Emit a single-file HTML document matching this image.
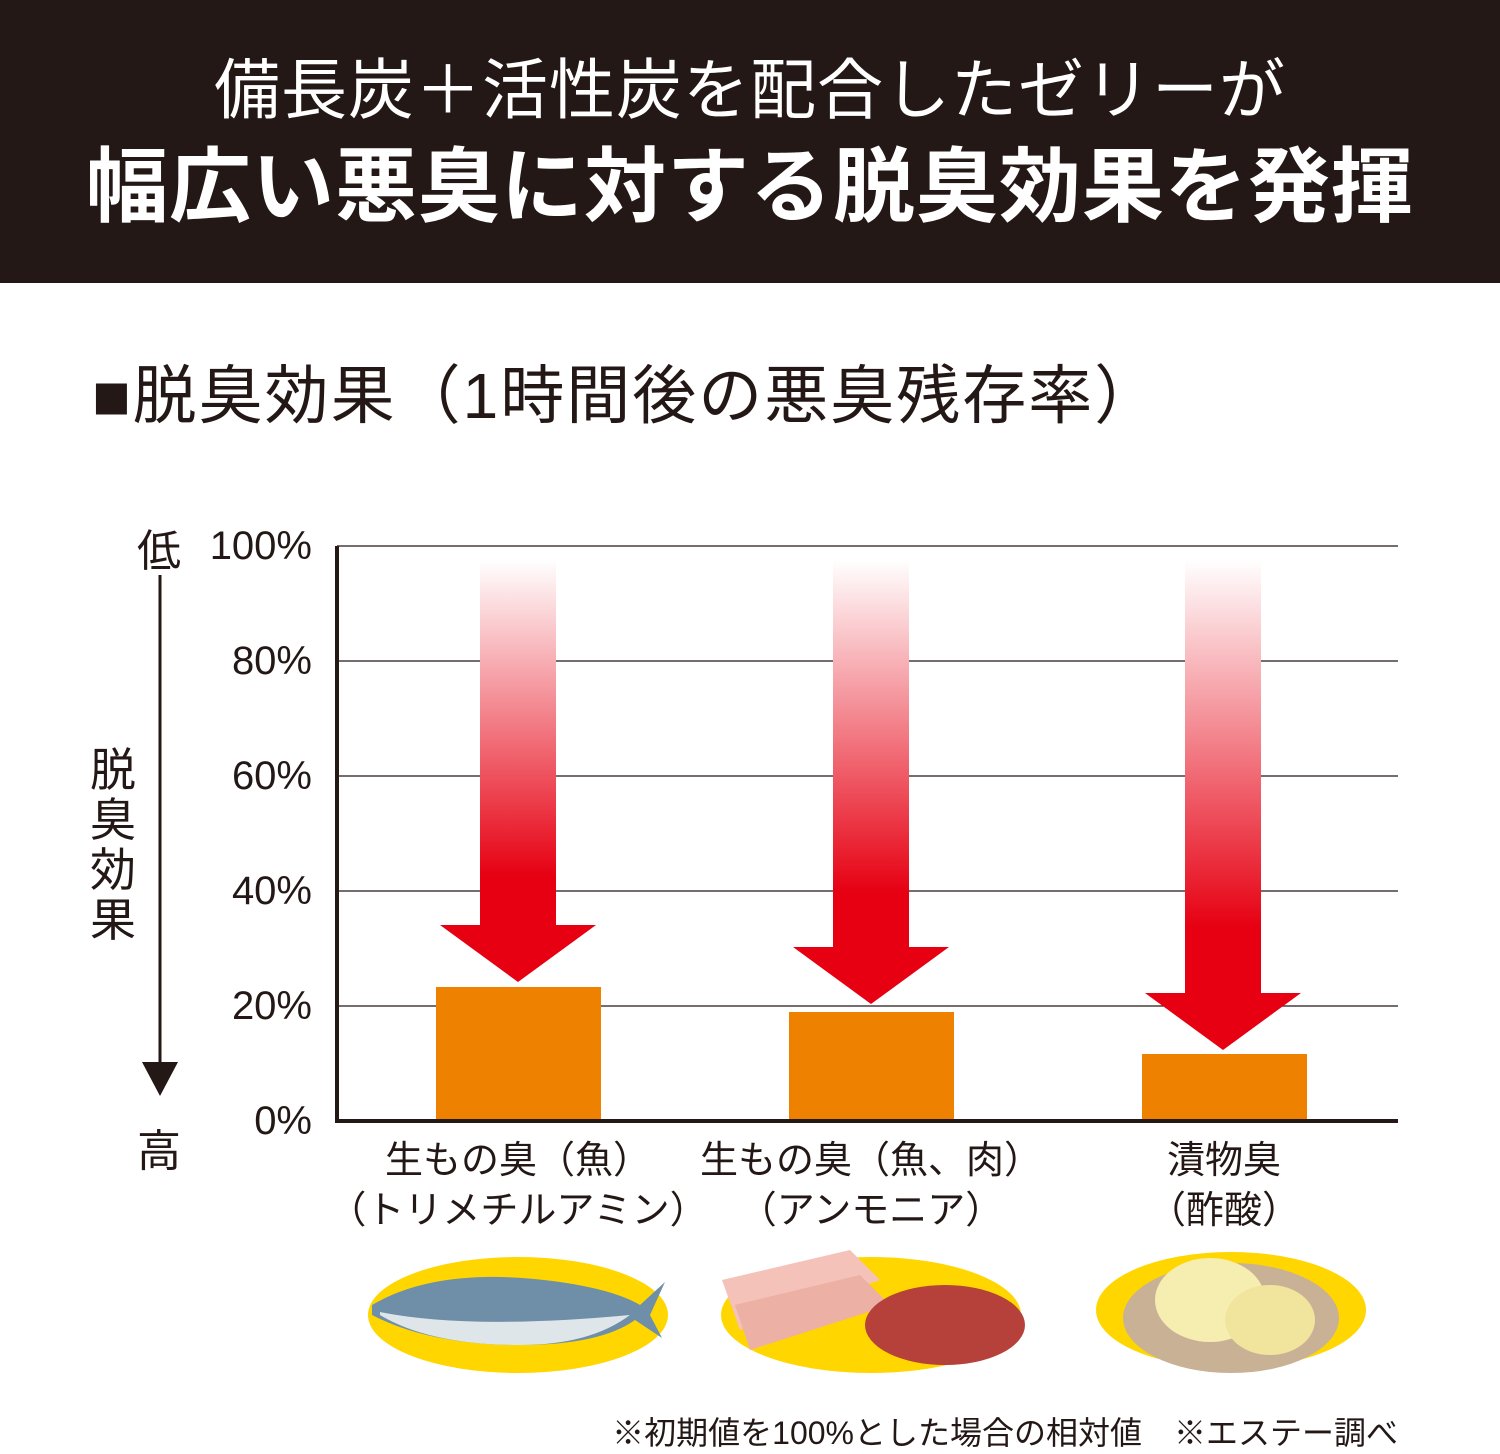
<!DOCTYPE html>
<html><head><meta charset="utf-8">
<style>
body{margin:0;width:1500px;height:1453px;background:#fff;position:relative;overflow:hidden;font-family:"Liberation Sans","Noto Sans CJK JP",sans-serif;color:#231815}
.hdr{position:absolute;left:0;top:0;width:1500px;height:283px;background:#231815;color:#fff;text-align:center}
.t1{position:absolute;top:50px;width:100%;font-size:66px;line-height:80px;letter-spacing:1px}
.t2{position:absolute;top:138px;width:100%;font-size:82px;line-height:100px;font-weight:bold;letter-spacing:1px}
.h2{position:absolute;left:92px;top:356px;font-size:64px;line-height:80px;letter-spacing:2px}
.yl{position:absolute;width:120px;text-align:right;left:192px;font-size:40px;line-height:42px}
.cat{position:absolute;width:380px;text-align:center;font-size:38px;line-height:50px}
.note{position:absolute;right:102px;top:1412px;font-size:32px;line-height:42px}
</style></head><body>
<div class="hdr">
<div class="t1">備長炭＋活性炭を配合したゼリーが</div>
<div class="t2">幅広い悪臭に対する脱臭効果を発揮</div>
</div>
<div class="h2">■脱臭効果（1時間後の悪臭残存率）</div>

<svg width="1500" height="1453" style="position:absolute;left:0;top:0">
<defs>
<linearGradient id="g" x1="0" y1="0" x2="0" y2="1">
<stop offset="0" stop-color="#fff"/><stop offset="0.75" stop-color="#e60012"/><stop offset="1" stop-color="#e60012"/>
</linearGradient>
</defs>
<g stroke="#231815" stroke-width="1.2">
<line x1="337" y1="546" x2="1398" y2="546"/>
<line x1="337" y1="661" x2="1398" y2="661"/>
<line x1="337" y1="776" x2="1398" y2="776"/>
<line x1="337" y1="891" x2="1398" y2="891"/>
<line x1="337" y1="1006" x2="1398" y2="1006"/>
</g>
<rect x="436" y="987" width="165" height="134" fill="#ee8100"/>
<rect x="789" y="1012" width="165" height="109" fill="#ee8100"/>
<rect x="1142" y="1054" width="165" height="67" fill="#ee8100"/>
<line x1="337" y1="546" x2="337" y2="1123" stroke="#231815" stroke-width="4"/>
<line x1="335" y1="1121" x2="1398" y2="1121" stroke="#231815" stroke-width="4"/>
<path d="M480 560H556V925H596L518 982L440 925H480Z" fill="url(#g)"/>
<path d="M833 560H909V947H949L871 1004L793 947H833Z" fill="url(#g)"/>
<path d="M1185 560H1261V993H1301L1223 1050L1145 993H1185Z" fill="url(#g)"/>
<line x1="160" y1="575" x2="160" y2="1065" stroke="#231815" stroke-width="3"/>
<path d="M142 1062H178L160 1096Z" fill="#231815"/>
<ellipse cx="518" cy="1315" rx="150" ry="58" fill="#ffd600"/>
<path d="M372 1305Q440 1265 560 1282Q615 1290 640 1305L665 1282L650 1315L662 1338L635 1320Q600 1345 520 1345Q430 1345 372 1315Z" fill="#6f8fa8"/>
<path d="M380 1312Q470 1330 630 1315Q590 1345 520 1345Q430 1345 380 1315Z" fill="#dfe6ea"/>
<ellipse cx="871" cy="1315" rx="150" ry="58" fill="#ffd600"/>
<path d="M722 1280L850 1250L880 1280L740 1330Z" fill="#f4c2b8"/>
<path d="M735 1305L860 1275L890 1305L750 1350Z" fill="#ecb0a4"/>
<ellipse cx="945" cy="1325" rx="80" ry="40" fill="#b6403a"/>
<ellipse cx="1231" cy="1310" rx="135" ry="58" fill="#ffd600"/>
<ellipse cx="1231" cy="1318" rx="108" ry="55" fill="#c9b196"/>
<ellipse cx="1210" cy="1300" rx="55" ry="42" fill="#f6edb0"/>
<ellipse cx="1270" cy="1320" rx="45" ry="35" fill="#f1e59e"/>
</svg>

<div class="yl" style="top:525px">100%</div>
<div class="yl" style="top:640px">80%</div>
<div class="yl" style="top:755px">60%</div>
<div class="yl" style="top:870px">40%</div>
<div class="yl" style="top:985px">20%</div>
<div class="yl" style="top:1100px">0%</div>
<div style="position:absolute;left:137px;top:515px;font-size:44px">低</div>
<div style="position:absolute;left:137px;top:1115px;font-size:44px">高</div>
<div style="position:absolute;left:90px;top:745px;width:48px;font-size:46px;line-height:50px">脱<br>臭<br>効<br>果</div>

<div class="cat" style="left:328px;top:1136px">生もの臭（魚）<br>（トリメチルアミン）</div>
<div class="cat" style="left:681px;top:1136px">生もの臭（魚、肉）<br>（アンモニア）</div>
<div class="cat" style="left:1034px;top:1136px">漬物臭<br>（酢酸）</div>
<div class="note">※初期値を100%とした場合の相対値　※エステー調べ</div>
</body></html>
